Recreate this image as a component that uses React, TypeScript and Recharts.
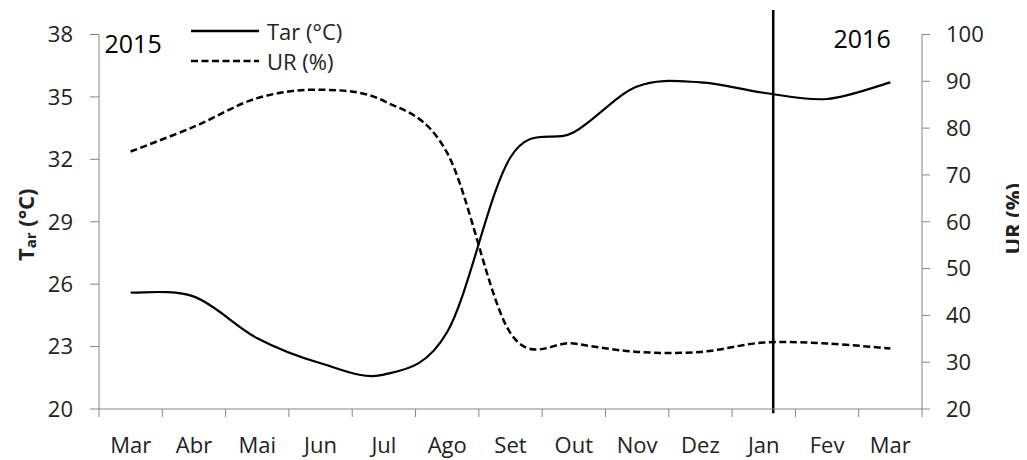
import React from 'react';
import { LineChart, Line, XAxis, YAxis, Legend, ReferenceLine } from 'recharts';

// ---- data ----
const months = ['Mar', 'Abr', 'Mai', 'Jun', 'Jul', 'Ago', 'Set', 'Out', 'Nov', 'Dez', 'Jan', 'Fev', 'Mar'];
const tarValues = [25.6, 25.4, 23.4, 22.2, 21.65, 23.7, 32.1, 33.3, 35.5, 35.7, 35.2, 34.9, 35.7];
const urValues = [75.0, 80.3, 86.4, 88.2, 85.8, 74.7, 36.2, 34.0, 32.2, 32.2, 34.2, 34.0, 32.9];
const tarTicks = [20, 23, 26, 29, 32, 35, 38];
const urTicks = [20, 30, 40, 50, 60, 70, 80, 90, 100];
const yearLabels = ['2015', '2016'];
const yearDivider = 10.65; // position on the month-slot scale
const dividerSpan = [19.8, 39.18]; // Tar units

// each month occupies one slot; values sit in the middle of their slot
const data = months.map((m, i) => ({ month: m, slot: i + 0.5, tar: tarValues[i], ur: urValues[i] }));
const slotTicks: number[] = [];
for (let i = 0; i <= months.length * 2; i++) slotTicks.push(i / 2);

const FONT = "'Open Sans', sans-serif";
const AXIS = '#868686';
const TXT = '#222';

// Spreadsheet-style smoothed line (Catmull-Rom through every point)
function smoothCurve(context: any) {
  let pts: number[][] = [];
  return {
    areaStart() {},
    areaEnd() {},
    lineStart() {
      pts = [];
    },
    point(x: number, y: number) {
      pts.push([+x, +y]);
    },
    lineEnd() {
      const n = pts.length;
      if (!n) return;
      context.moveTo(pts[0][0], pts[0][1]);
      for (let i = 0; i < n - 1; i++) {
        const p0 = pts[i === 0 ? 0 : i - 1];
        const p1 = pts[i];
        const p2 = pts[i + 1];
        const p3 = pts[i + 2 < n ? i + 2 : n - 1];
        context.bezierCurveTo(
          p1[0] + (p2[0] - p0[0]) / 6,
          p1[1] + (p2[1] - p0[1]) / 6,
          p2[0] - (p3[0] - p1[0]) / 6,
          p2[1] - (p3[1] - p1[1]) / 6,
          p2[0],
          p2[1]
        );
      }
    },
  };
}

const MonthTick = (props: any) => {
  const { x, y, payload } = props;
  const v = payload.value as number;
  if (Number.isInteger(v)) {
    return <line x1={x} x2={x} y1={y} y2={y + 8} stroke={AXIS} strokeWidth={1} />;
  }
  const label = months[Math.floor(v)];
  return (
    <text x={x} y={y + 44} textAnchor="middle" fill={TXT} fontSize={22} fontFamily={FONT}>
      {label}
    </text>
  );
};

const LeftTitle = (props: any) => {
  const vb = props.viewBox || { x: 0, y: 0, width: 0, height: 0 };
  const cx = vb.x + 17;
  const cy = vb.y + vb.height / 2 + 3;
  return (
    <text
      x={cx}
      y={cy}
      transform={`rotate(-90 ${cx} ${cy})`}
      textAnchor="middle"
      dominantBaseline="central"
      fontFamily={FONT}
      fontWeight={700}
      fontSize={22}
      fill={TXT}
    >
      <tspan>T</tspan>
      <tspan fontSize={15} dy={5}>
        ar
      </tspan>
      <tspan dy={-5}> (°C)</tspan>
    </text>
  );
};

const RightTitle = (props: any) => {
  const vb = props.viewBox || { x: 0, y: 0, width: 0, height: 0 };
  const cx = vb.x + 90;
  const cy = vb.y + vb.height / 2 - 3;
  return (
    <text
      x={cx}
      y={cy}
      transform={`rotate(-90 ${cx} ${cy})`}
      textAnchor="middle"
      dominantBaseline="central"
      fontFamily={FONT}
      fontWeight={700}
      fontSize={22}
      fill={TXT}
    >
      UR (%)
    </text>
  );
};

const LegendContent = (props: any) => {
  const { payload } = props;
  return (
    <div style={{ fontFamily: FONT, fontSize: 22, color: TXT }}>
      {(payload || []).map((p: any) => (
        <div key={p.value} style={{ display: 'flex', alignItems: 'center', height: 30 }}>
          <svg width={68} height={4} style={{ display: 'block' }}>
            <line
              x1={0}
              y1={2}
              x2={68}
              y2={2}
              stroke="#000"
              strokeWidth={2.5}
              strokeDasharray={p.dataKey === 'ur' ? '7 3.5' : undefined}
            />
          </svg>
          <span style={{ marginLeft: 8, lineHeight: '30px', whiteSpace: 'nowrap' }}>{p.value}</span>
        </div>
      ))}
    </div>
  );
};

export default function App() {
  return (
    <div style={{ position: 'relative', width: 1019, height: 452 }}>
      <LineChart width={1019} height={452} data={data} margin={{ top: 26.5, right: 0, bottom: 0, left: 0 }}>
        <XAxis
          dataKey="slot"
          type="number"
          domain={[0, months.length]}
          ticks={slotTicks}
          interval={0}
          allowDataOverflow
          height={51}
          axisLine={{ stroke: AXIS }}
          tickLine={false}
          tickSize={0}
          tickMargin={0}
          tick={<MonthTick />}
        />
        <YAxis
          yAxisId="left"
          orientation="left"
          width={91}
          domain={[20, 38]}
          ticks={tarTicks}
          interval={0}
          allowDataOverflow
          axisLine={{ stroke: AXIS }}
          tickLine={{ stroke: AXIS }}
          tickSize={9}
          tickMargin={17}
          tick={{ fill: TXT, fontSize: 22, fontFamily: FONT }}
          label={{ content: <LeftTitle /> }}
        />
        <YAxis
          yAxisId="right"
          orientation="right"
          width={105}
          domain={[20, 100]}
          ticks={urTicks}
          interval={0}
          axisLine={{ stroke: AXIS }}
          tickLine={{ stroke: AXIS }}
          tickSize={8}
          tickMargin={16}
          tick={{ fill: TXT, fontSize: 22, fontFamily: FONT, textAnchor: 'start' }}
          label={{ content: <RightTitle /> }}
        />
        <ReferenceLine
          yAxisId="left"
          segment={[
            { x: yearDivider, y: dividerSpan[0] },
            { x: yearDivider, y: dividerSpan[1] },
          ]}
          stroke="#000"
          strokeWidth={2.5}
          ifOverflow="visible"
        />
        <Line
          yAxisId="left"
          type={smoothCurve as any}
          dataKey="tar"
          name="Tar (°C)"
          stroke="#000"
          strokeWidth={2.2}
          dot={false}
          isAnimationActive={false}
        />
        <Line
          yAxisId="right"
          type={smoothCurve as any}
          dataKey="ur"
          name="UR (%)"
          stroke="#000"
          strokeWidth={2.5}
          strokeDasharray="7 3.5"
          dot={false}
          isAnimationActive={false}
        />
        <Legend
          layout="vertical"
          align="center"
          verticalAlign="middle"
          content={<LegendContent />}
          wrapperStyle={{ top: 7.5, left: 183, width: 200, height: 60 }}
        />
      </LineChart>

      <div
        style={{
          position: 'absolute',
          left: 96.5,
          top: 22.8,
          fontFamily: FONT,
          fontSize: 25,
          color: '#000',
          lineHeight: 1,
        }}
      >
        {yearLabels[0]}
      </div>
      <div
        style={{
          position: 'absolute',
          left: 825.5,
          top: 17.8,
          fontFamily: FONT,
          fontSize: 25,
          color: '#000',
          lineHeight: 1,
        }}
      >
        {yearLabels[1]}
      </div>
    </div>
  );
}
